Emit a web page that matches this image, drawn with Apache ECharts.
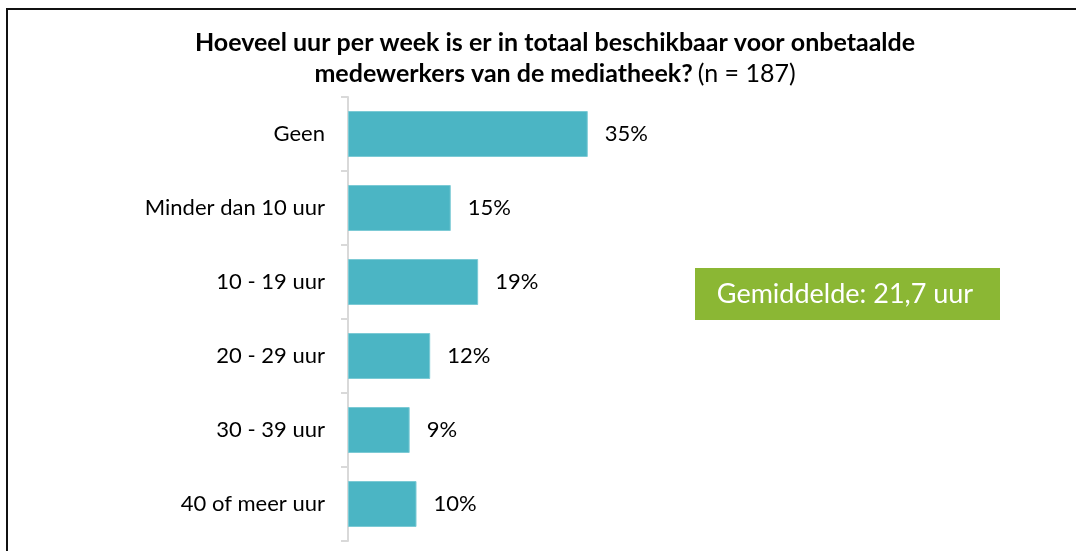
<!DOCTYPE html>
<html>
<head>
<meta charset="utf-8">
<script src="https://cdn.jsdelivr.net/npm/echarts@6/dist/echarts.min.js"></script>
<style>
html,body{margin:0;padding:0;background:#fff;}
#c{width:1076px;height:551px;}
</style>
</head>
<body>
<div id="c"></div>
<script>
var categories = ['Geen', 'Minder dan 10 uur', '10 - 19 uur', '20 - 29 uur', '30 - 39 uur', '40 of meer uur'];
var values = [35, 15, 19, 12, 9, 10];
var titleLine1 = 'Hoeveel uur per week is er in totaal beschikbaar voor onbetaalde';
var titleLine2 = 'medewerkers van de mediatheek?';
var titleN = '(n = 187)';
var averageText = 'Gemiddelde: 21,7 uur';

var FONT = 'Lato';
var chart = echarts.init(document.getElementById('c'), null, {renderer: 'canvas'});
chart.setOption({
  backgroundColor: '#fff',
  animation: false,
  title: {
    left: 550,
    top: 22,
    textAlign: 'center',
    text: '{b|' + titleLine1 + '}\n{b|' + titleLine2 + '} {n|' + titleN + '}',
    textStyle: {
      rich: {
        b: {fontFamily: FONT, fontWeight: 'bold', fontSize: 25, color: '#000', lineHeight: 31},
        n: {fontFamily: FONT, fontWeight: 'normal', fontSize: 25, color: '#000', lineHeight: 31}
      }
    }
  },
  grid: {left: 348, top: 97, bottom: 10, width: 685, containLabel: false},
  xAxis: {
    type: 'value', min: 0, max: 100, show: false
  },
  yAxis: {
    type: 'category',
    data: categories,
    inverse: true,
    axisLine: {show: true, lineStyle: {color: '#D9D9D9', width: 2}},
    axisTick: {show: true, length: 7, lineStyle: {color: '#D9D9D9', width: 2}},
    axisLabel: {fontFamily: FONT, fontSize: 22, color: '#000', margin: 23}
  },
  series: [{
    type: 'bar',
    data: values,
    barWidth: 46,
    itemStyle: {color: '#4BB5C4', borderColor: '#7CCAD5', borderWidth: 1},
    label: {
      show: true, position: 'right', distance: 17,
      formatter: '{c}%',
      fontFamily: FONT, fontSize: 22, color: '#000'
    }
  }],
  graphic: [
    {type: 'rect', shape: {x: 7, y: 9, width: 1200, height: 700}, style: {fill: 'none', stroke: '#111', lineWidth: 2}, silent: true},
    {type: 'rect', shape: {x: 695, y: 268, width: 305, height: 52}, style: {fill: '#8BB734'}},
    {type: 'text', x: 845, y: 294, style: {text: averageText, fill: '#fff', font: '27px Lato', textAlign: 'center', textVerticalAlign: 'middle'}}
  ]
});
</script>
</body>
</html>
